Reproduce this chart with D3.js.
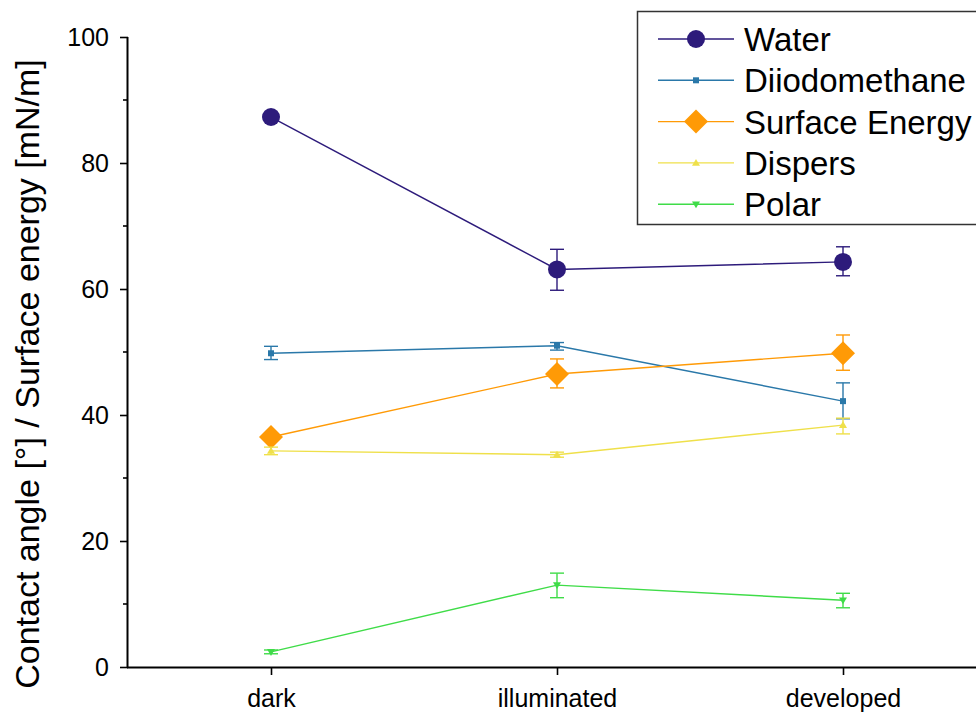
<!DOCTYPE html>
<html>
<head>
<meta charset="utf-8">
<script src="https://cdn.jsdelivr.net/npm/d3@7"></script>
<style>
  html, body { margin: 0; padding: 0; background: #fff; }
  svg { display: block; }
  text { font-family: "Liberation Sans", Arial, sans-serif; fill: #000; }
</style>
</head>
<body>
<svg id="chart" width="976" height="714"></svg>
<script>
// Categories along the x axis
const categories = ["dark", "illuminated", "developed"];

// Series values (mean) and error half-ranges [down, up]
const waterValues = [87.3, 63.1, 64.3];
const waterErrLow = [0.3, 3.3, 2.2];
const waterErrHigh = [0.3, 3.2, 2.4];

const diiodoValues = [49.8, 51.0, 42.2];
const diiodoErrLow = [1.0, 0.7, 2.8];
const diiodoErrHigh = [1.1, 0.5, 2.9];

const surfaceValues = [36.5, 46.5, 49.8];
const surfaceErrLow = [0.3, 2.2, 2.7];
const surfaceErrHigh = [0.3, 2.4, 2.9];

const dispersValues = [34.3, 33.7, 38.4];
const dispersErrLow = [0.6, 0.4, 1.4];
const dispersErrHigh = [0.6, 0.4, 1.1];

const polarValues = [2.4, 13.0, 10.6];
const polarErrLow = [0.3, 2.0, 1.2];
const polarErrHigh = [0.3, 1.9, 1.1];

const seriesNames = ["Water", "Diiodomethane", "Surface Energy", "Dispers", "Polar"];
const yTicks = [0, 20, 40, 60, 80, 100];
const yMinorTicks = [10, 30, 50, 70, 90];

const series = [
  { name: seriesNames[0], values: waterValues, lo: waterErrLow, hi: waterErrHigh, color: "#2d1b7b", marker: "circle", size: 9 },
  { name: seriesNames[1], values: diiodoValues, lo: diiodoErrLow, hi: diiodoErrHigh, color: "#2a78a9", marker: "square", size: 3 },
  { name: seriesNames[2], values: surfaceValues, lo: surfaceErrLow, hi: surfaceErrHigh, color: "#ff9a06", marker: "diamond", size: 12 },
  { name: seriesNames[3], values: dispersValues, lo: dispersErrLow, hi: dispersErrHigh, color: "#efe04a", marker: "triangleUp", size: 4 },
  { name: seriesNames[4], values: polarValues, lo: polarErrLow, hi: polarErrHigh, color: "#3fdc48", marker: "triangleDown", size: 4 }
];

const svg = d3.select("#chart");

const plotLeft = 128, plotBottom = 667, plotTop = 37;
const x = d3.scaleLinear().domain([0.5, 3.5]).range([plotLeft, 986]);
const y = d3.scaleLinear().domain([0, 100]).range([plotBottom, plotTop]);

function drawMarker(g, type, cx, cy, s, color) {
  if (type === "circle") {
    g.append("circle").attr("cx", cx).attr("cy", cy).attr("r", s).attr("fill", color);
  } else if (type === "square") {
    g.append("rect").attr("x", cx - s).attr("y", cy - s).attr("width", 2 * s).attr("height", 2 * s).attr("fill", color);
  } else if (type === "diamond") {
    g.append("path").attr("d", `M${cx},${cy - s}L${cx + s},${cy}L${cx},${cy + s}L${cx - s},${cy}Z`).attr("fill", color);
  } else if (type === "triangleUp") {
    g.append("path").attr("d", `M${cx},${cy - s}L${cx + s},${cy + s * 0.7}L${cx - s},${cy + s * 0.7}Z`).attr("fill", color);
  } else if (type === "triangleDown") {
    g.append("path").attr("d", `M${cx},${cy + s}L${cx + s},${cy - s * 0.7}L${cx - s},${cy - s * 0.7}Z`).attr("fill", color);
  }
}

// Series lines, error bars and markers
const plot = svg.append("g");
series.forEach(s => {
  const pts = s.values.map((v, i) => [x(i + 1), y(v)]);
  plot.append("path")
    .attr("d", d3.line()(pts))
    .attr("fill", "none")
    .attr("stroke", s.color)
    .attr("stroke-width", 1.4);

  s.values.forEach((v, i) => {
    const cx = x(i + 1);
    const y1 = y(v + s.hi[i]), y0 = y(v - s.lo[i]);
    const eb = plot.append("g").attr("stroke", s.color).attr("stroke-width", 1.4);
    eb.append("line").attr("x1", cx).attr("x2", cx).attr("y1", y1).attr("y2", y0);
    eb.append("line").attr("x1", cx - 7).attr("x2", cx + 7).attr("y1", y1).attr("y2", y1);
    eb.append("line").attr("x1", cx - 7).attr("x2", cx + 7).attr("y1", y0).attr("y2", y0);
  });
  s.values.forEach((v, i) => drawMarker(plot, s.marker, x(i + 1), y(v), s.size, s.color));
});

// Y axis
const yAxis = svg.append("g").attr("transform", `translate(${plotLeft},0)`)
  .call(d3.axisLeft(y).tickValues(yTicks).tickSize(8).tickPadding(11).tickFormat(d3.format("d")));
yAxis.selectAll("text").style("font-size", "25px");
yAxis.select(".domain").attr("stroke-width", 2).attr("d", `M-0.5,${plotTop}V${plotBottom}`);
yAxis.selectAll(".tick line").attr("stroke-width", 1.6);
yAxis.selectAll(".minor").data(yMinorTicks).enter().append("line")
  .attr("class", "minor")
  .attr("x1", 0).attr("x2", -5).attr("y1", d => y(d)).attr("y2", d => y(d))
  .attr("stroke", "#000").attr("stroke-width", 1.6);

// X axis
const xAxis = svg.append("g").attr("transform", `translate(0,${plotBottom})`)
  .call(d3.axisBottom(x).tickValues([1, 2, 3]).tickSize(8).tickPadding(14)
    .tickFormat(d => categories[d - 1]));
xAxis.selectAll("text").style("font-size", "25px");
xAxis.select(".domain").attr("stroke-width", 2).attr("d", `M${plotLeft - 1},0.5H976`);
xAxis.selectAll(".tick line").attr("stroke-width", 1.6);

// Y axis title
svg.append("text")
  .attr("transform", `translate(39,374) rotate(-90)`)
  .attr("text-anchor", "middle")
  .style("font-size", "34px")
  .text("Contact angle [°] / Surface energy [mN/m]");

// Legend
const legend = svg.append("g");
legend.append("rect")
  .attr("x", 637.5).attr("y", 11.5).attr("width", 360).attr("height", 213)
  .attr("fill", "#fff").attr("stroke", "#333").attr("stroke-width", 1.5);
series.forEach((s, i) => {
  const ly = 39 + i * 41.3;
  legend.append("line").attr("x1", 658).attr("x2", 734).attr("y1", ly).attr("y2", ly)
    .attr("stroke", s.color).attr("stroke-width", 1.4);
  drawMarker(legend, s.marker, 696, ly, s.size, s.color);
  legend.append("text").attr("x", 744).attr("y", ly + 12)
    .style("font-size", "33px").text(s.name);
});
</script>
</body>
</html>
